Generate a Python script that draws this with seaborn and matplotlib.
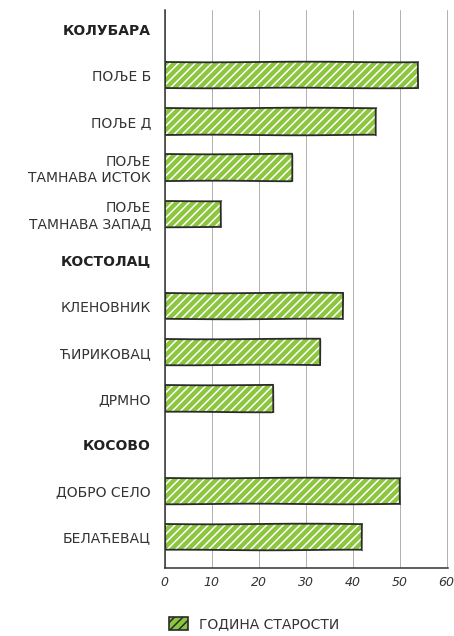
import matplotlib
matplotlib.use("Agg")
import matplotlib.pyplot as plt
import matplotlib.patches as mpatches
import seaborn as sns
import pandas as pd

# ---- data ----
categories = ["ПОЉЕ Б", "ПОЉЕ Д", "ПОЉЕ\nТАМНАВА ИСТОК", "ПОЉЕ\nТАМНАВА ЗАПАД",
              "КЛЕНОВНИК", "ЋИРИКОВАЦ", "ДРМНО",
              "ДОБРО СЕЛО", "БЕЛАЋЕВАЦ"]
values = [54, 45, 27, 12, 38, 33, 23, 50, 42]
groups = ["КОЛУБАРА", "КОСТОЛАЦ", "КОСОВО"]
order = ["КОЛУБАРА", "ПОЉЕ Б", "ПОЉЕ Д", "ПОЉЕ\nТАМНАВА ИСТОК", "ПОЉЕ\nТАМНАВА ЗАПАД",
         "КОСТОЛАЦ", "КЛЕНОВНИК", "ЋИРИКОВАЦ", "ДРМНО",
         "КОСОВО", "ДОБРО СЕЛО", "БЕЛАЋЕВАЦ"]
xticks = [0, 10, 20, 30, 40, 50, 60]
series_name = "ГОДИНА СТАРОСТИ"

df = pd.DataFrame({"cat": categories, "val": values})

sns.set_style("white")
plt.rcParams["font.family"] = ["DejaVu Sans"]
plt.rcParams["hatch.linewidth"] = 1.1

GREEN = "#8cc63f"
DARK = "#2b2b2b"

fig = plt.figure(figsize=(4.54, 6.36), dpi=100)
ax = fig.add_axes([0.363, 0.107, 0.624, 0.877])

# filled, white-hatched bars
sns.barplot(data=df, x="val", y="cat", order=order, orient="h", color=GREEN,
            width=0.57, ax=ax, saturation=1)
for p in ax.patches:
    p.set_hatch("////")
    p.set_edgecolor("white")
    p.set_linewidth(0)
n_fill = len(ax.patches)
# dark outlines
sns.barplot(data=df, x="val", y="cat", order=order, orient="h", fill=False,
            color=DARK, width=0.57, ax=ax, linewidth=1.3)
for p in ax.patches[n_fill:]:
    p.set_edgecolor(DARK)
    p.set_sketch_params(0.3, 200, 2)

ax.set_xlim(0, 60.3)
ax.set_ylim(11.67, -0.41)
ax.set_xticks(xticks)
ax.set_xticklabels([str(t) for t in xticks], fontsize=9, style="italic", color="#333333")
ax.set_xlabel("")
ax.set_ylabel("")
ax.tick_params(axis="y", length=0, pad=10)
ax.tick_params(axis="x", length=0, pad=6)

for lab in ax.get_yticklabels():
    t = lab.get_text()
    lab.set_fontsize(10)
    lab.set_color("#333333")
    lab.set_multialignment("right")
    if t in groups:
        lab.set_fontweight("bold")
        lab.set_color("#222222")

ax.grid(axis="x", color="#b0b0b0", linewidth=0.7)
ax.set_axisbelow(True)
for s in ["top", "right"]:
    ax.spines[s].set_visible(False)
for s in ["left", "bottom"]:
    ax.spines[s].set_color("#333333")
    ax.spines[s].set_linewidth(1.1)

handle = mpatches.Patch(facecolor=GREEN, edgecolor=DARK, hatch="////", linewidth=1.2)
leg = fig.legend([handle], [series_name], loc="lower center", bbox_to_anchor=(0.56, -0.012),
                 frameon=False, fontsize=10, handlelength=1.4, handleheight=1.0)
for t in leg.get_texts():
    t.set_color("#333333")

fig.savefig("out.png", dpi=100)
